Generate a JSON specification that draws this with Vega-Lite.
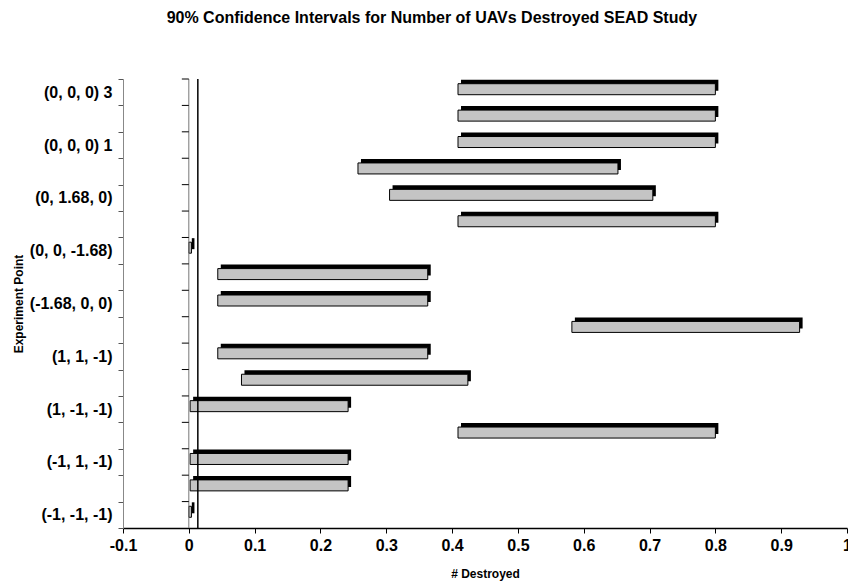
{
  "$schema": "https://vega.github.io/schema/vega-lite/v6.json",
  "autosize": "none",
  "width": 724,
  "height": 449,
  "padding": {"left": 123, "top": 79, "right": 1, "bottom": 55},
  "background": "white",
  "title": {
    "text": "90% Confidence Intervals for Number of UAVs Destroyed SEAD Study",
    "anchor": "middle",
    "frame": "bounds",
    "font": "Liberation Sans",
    "fontSize": 16,
    "fontWeight": "bold",
    "color": "black",
    "offset": 45
  },
  "datasets": {
    "ci": [
      {"point": "(0, 0, 0) 3", "lo": 0.409, "hi": 0.800},
      {"point": "(0, 0, 0) 2", "lo": 0.409, "hi": 0.800},
      {"point": "(0, 0, 0) 1", "lo": 0.409, "hi": 0.800},
      {"point": "(0, -1.68, 0)", "lo": 0.257, "hi": 0.652},
      {"point": "(0, 1.68, 0)", "lo": 0.305, "hi": 0.705},
      {"point": "(0, 0, 1.68)", "lo": 0.409, "hi": 0.800},
      {"point": "(0, 0, -1.68)", "lo": 0.0, "hi": 0.004},
      {"point": "(1.68, 0, 0)", "lo": 0.044, "hi": 0.363},
      {"point": "(-1.68, 0, 0)", "lo": 0.044, "hi": 0.363},
      {"point": "(1, 1, 1)", "lo": 0.582, "hi": 0.928},
      {"point": "(1, 1, -1)", "lo": 0.044, "hi": 0.363},
      {"point": "(1, -1, 1)", "lo": 0.080, "hi": 0.424},
      {"point": "(1, -1, -1)", "lo": 0.002, "hi": 0.242},
      {"point": "(-1, 1, 1)", "lo": 0.409, "hi": 0.800},
      {"point": "(-1, 1, -1)", "lo": 0.002, "hi": 0.242},
      {"point": "(-1, -1, 1)", "lo": 0.002, "hi": 0.242},
      {"point": "(-1, -1, -1)", "lo": 0.0, "hi": 0.004}
    ],
    "refline": [{"x": 0.0137}],
    "zeroline": [{"x": 0}]
  },
  "layer": [
    {
      "data": {"name": "ci"},
      "mark": {"type": "bar", "color": "black", "size": 11, "xOffset": 3, "x2Offset": 3, "yOffset": -7},
      "encoding": {
        "y": {
          "field": "point", "type": "nominal",
          "scale": {"paddingInner": 0, "paddingOuter": 0, "domain": ["(0, 0, 0) 3", "(0, 0, 0) 2", "(0, 0, 0) 1", "(0, -1.68, 0)", "(0, 1.68, 0)", "(0, 0, 1.68)", "(0, 0, -1.68)", "(1.68, 0, 0)", "(-1.68, 0, 0)", "(1, 1, 1)", "(1, 1, -1)", "(1, -1, 1)", "(1, -1, -1)", "(-1, 1, 1)", "(-1, 1, -1)", "(-1, -1, 1)", "(-1, -1, -1)"]},
          "axis": {
            "title": "Experiment Point",
            "titleFont": "Liberation Sans", "titleFontSize": 12, "titleFontWeight": "bold", "titleColor": "black", "titlePadding": 4,
            "labelFont": "Liberation Sans", "labelFontSize": 16, "labelFontWeight": "bold", "labelColor": "black", "labelPadding": 6,
            "labelExpr": "indexof(['(1.68, 0, 0)', '(0, 0, 1.68)', '(0, -1.68, 0)', '(0, 0, 0) 2', '(-1, -1, 1)', '(-1, 1, 1)', '(1, -1, 1)', '(1, 1, 1)'], datum.value) >= 0 ? '' : datum.value",
            "tickBand": "extent", "tickSize": 5, "tickColor": "#555", "domainColor": "#888", "grid": false
          }
        },
        "x": {
          "field": "lo", "type": "quantitative",
          "scale": {"domain": [-0.1, 1], "nice": false, "zero": false},
          "axis": {
            "title": "# Destroyed",
            "titleFont": "Liberation Sans", "titleFontSize": 12, "titleFontWeight": "bold", "titleColor": "black", "titlePadding": 15,
            "labelFont": "Liberation Sans", "labelFontSize": 16, "labelFontWeight": "bold", "labelColor": "black", "labelPadding": 4,
            "values": [-0.1, 0, 0.1, 0.2, 0.3, 0.4, 0.5, 0.6, 0.7, 0.8, 0.9, 1],
            "labelExpr": "toString(round(datum.value * 10) / 10)",
            "labelOverlap": false, "labelFlush": false,
            "domainColor": "black", "domainWidth": 1.5, "tickColor": "black", "tickSize": 5, "grid": false
          }
        },
        "x2": {"field": "hi"}
      }
    },
    {
      "data": {"name": "ci"},
      "mark": {"type": "bar", "color": "#c4c4c4", "stroke": "black", "strokeWidth": 1, "size": 11, "yOffset": -3},
      "encoding": {
        "y": {"field": "point", "type": "nominal"},
        "x": {"field": "lo", "type": "quantitative"},
        "x2": {"field": "hi"}
      }
    },
    {
      "data": {"name": "zeroline"},
      "mark": {"type": "rule", "color": "#777", "strokeWidth": 1},
      "encoding": {"x": {"field": "x", "type": "quantitative"}}
    },
    {
      "data": {"name": "ci"},
      "transform": [{"calculate": "-0.0106", "as": "t0"}, {"calculate": "0", "as": "t1"}],
      "mark": {"type": "rule", "color": "black", "strokeWidth": 1},
      "encoding": {
        "y": {"field": "point", "type": "nominal", "bandPosition": 0},
        "x": {"field": "t0", "type": "quantitative"},
        "x2": {"field": "t1"}
      }
    },
    {
      "data": {"name": "refline"},
      "mark": {"type": "rule", "color": "black", "strokeWidth": 1.5},
      "encoding": {"x": {"field": "x", "type": "quantitative"}}
    }
  ],
  "config": {"view": {"stroke": null}, "font": "Liberation Sans"}
}
